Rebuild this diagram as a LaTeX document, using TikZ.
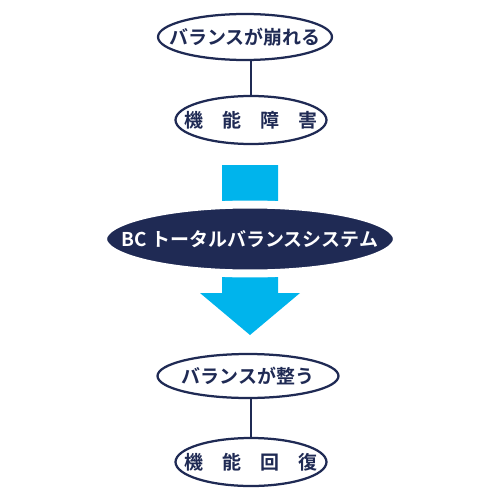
\documentclass[tikz,border=0pt]{standalone}
\usepackage{fontspec}
\usetikzlibrary{shapes}
\newfontfamily\jpfont{Noto Sans CJK JP}[BoldFont={Noto Sans CJK JP Bold}]
\definecolor{navyline}{RGB}{31,42,84}
\definecolor{skyarrow}{RGB}{0,180,236}
\newcommand{\flatlabel}[1]{\makebox[0pt]{#1}}

\begin{document}
\begin{tikzpicture}[x=0.02cm,y=-0.02cm,
outlineellipsenode/.style={ellipse, draw=navyline, fill=white, line width=0.045cm, inner sep=0pt, text=navyline, font=\jpfont\bfseries\fontsize{10.8}{12}\selectfont},
darkellipsenode/.style={ellipse, draw=white, fill=navyline, line width=0.16cm, inner sep=0pt, text=white, font=\jpfont\bfseries\fontsize{10.8}{12}\selectfont},
link/.style={draw=navyline, line width=0.045cm}
]
\useasboundingbox (0,0) rectangle (500,500);

%Arrow
\fill[skyarrow] (222,165) -- (278,165) -- (278,293) -- (300,293) -- (250,335) -- (200,293) -- (222,293) -- cycle;

%Nodes
\node[outlineellipsenode, minimum width=3.48cm, minimum height=0.92cm] at (245,37) (BREAK) {\flatlabel{バランスが崩れる}};
\node[outlineellipsenode, minimum width=3.02cm, minimum height=0.96cm] at (251,120) (DISORDER) {\flatlabel{機　能　障　害}};

\node[darkellipsenode, minimum width=5.88cm, minimum height=1.38cm] at (250,239) (SYSTEM) {\flatlabel{BC トータルバランスシステム}};

\node[outlineellipsenode, minimum width=3.62cm, minimum height=0.88cm] at (248,376) (BALANCE) {\flatlabel{バランスが整う}};
\node[outlineellipsenode, minimum width=3.02cm, minimum height=0.96cm] at (251,462) (RECOVERY) {\flatlabel{機　能　回　復}};

%Lines
\draw[link] (DISORDER.north) -- (DISORDER.north |- BREAK.south);
\draw[link] (RECOVERY.north) -- (RECOVERY.north |- BALANCE.south);
\end{tikzpicture}
\end{document}
